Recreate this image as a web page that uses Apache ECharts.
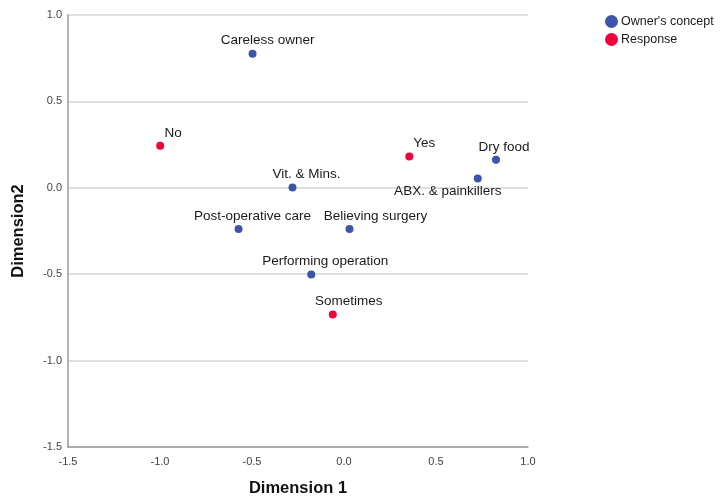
<!DOCTYPE html>
<html>
<head>
<meta charset="utf-8">
<script src="https://cdn.jsdelivr.net/npm/echarts@6/dist/echarts.min.js"></script>
<style>html,body{margin:0;padding:0;background:#fff}#c{width:726px;height:502px}</style>
</head>
<body>
<div id="c"></div>
<script>
// Owner's concept points
const ownerNames = ["Careless owner", "Vit. & Mins.", "Post-operative care", "Believing surgery", "Performing operation", "Dry food", "ABX. & painkillers"];
const ownerX = [-0.497, -0.280, -0.573, 0.030, -0.178, 0.826, 0.727];
const ownerY = [0.776, 0.002, -0.238, -0.238, -0.502, 0.162, 0.054];
// Response points
const respNames = ["No", "Yes", "Sometimes"];
const respX = [-0.999, 0.355, -0.061];
const respY = [0.243, 0.181, -0.733];
// Axis ticks
const xTicks = [-1.5, -1.0, -0.5, 0.0, 0.5, 1.0];
const yTicks = [-1.5, -1.0, -0.5, 0.0, 0.5, 1.0];

// label placement (style only)
const ownerLabelStyle = [
  {position: 'top', offset: [15, 0]},
  {position: 'top', offset: [14, 0]},
  {position: 'top', offset: [14, 0]},
  {position: 'top', offset: [26, 0]},
  {position: 'top', offset: [14, 0]},
  {position: 'top', offset: [8, 0]},
  {position: 'bottom', offset: [-30, 0]}
];
const respLabelStyle = [
  {position: 'top', offset: [13, 0]},
  {position: 'top', offset: [15, 0]},
  {position: 'top', offset: [16, 0]}
];

const BLUE = '#3B56A8', RED = '#F0033B';
const labelFont = {color: '#1a1a1a', fontSize: 13.5, fontFamily: 'Liberation Sans, Arial, sans-serif'};

function build(names, xs, ys, styles) {
  return names.map((n, i) => ({
    name: n,
    value: [xs[i], ys[i]],
    label: Object.assign({show: true, formatter: n, distance: 2}, labelFont, styles[i])
  }));
}

const chart = echarts.init(document.getElementById('c'), null, {renderer: 'canvas'});
chart.setOption({
  animation: false,
  backgroundColor: '#fff',
  textStyle: {fontFamily: 'Liberation Sans, Arial, sans-serif'},
  grid: {left: 68, right: 198, top: 15, bottom: 54, containLabel: false},
  legend: {
    orient: 'vertical', left: 600, top: 10, itemWidth: 13, itemHeight: 13, itemGap: 5,
    icon: 'circle',
    itemStyle: {opacity: 1},
    textStyle: {fontSize: 12.5, color: '#1a1a1a', padding: [0, 0, 0, -2]},
    data: ["Owner's concept", "Response"]
  },
  xAxis: {
    type: 'value', min: xTicks[0], max: xTicks[xTicks.length - 1], interval: 0.5,
    name: 'Dimension 1', nameLocation: 'middle', nameGap: 33,
    nameTextStyle: {fontSize: 16.5, fontWeight: 'bold', color: '#111'},
    axisLine: {show: true, onZero: false, lineStyle: {color: '#999', width: 1.5}},
    axisTick: {show: false},
    splitLine: {show: false},
    axisLabel: {color: '#444', fontSize: 11, margin: 9, formatter: v => v.toFixed(1)}
  },
  yAxis: {
    type: 'value', min: yTicks[0], max: yTicks[yTicks.length - 1], interval: 0.5,
    name: 'Dimension2', nameLocation: 'middle', nameGap: 41, nameRotate: 90,
    nameTextStyle: {fontSize: 16.5, fontWeight: 'bold', color: '#111'},
    axisLine: {show: true, onZero: false, lineStyle: {color: '#999', width: 1.5}},
    axisTick: {show: false},
    splitLine: {show: true, lineStyle: {color: '#d4d4d4', width: 1.5}},
    axisLabel: {color: '#444', fontSize: 11, margin: 6, formatter: v => v.toFixed(1)}
  },
  series: [
    {
      name: "Owner's concept", type: 'scatter', symbolSize: 8,
      itemStyle: {color: BLUE, opacity: 1},
      data: build(ownerNames, ownerX, ownerY, ownerLabelStyle)
    },
    {
      name: 'Response', type: 'scatter', symbolSize: 8,
      itemStyle: {color: RED, opacity: 1},
      data: build(respNames, respX, respY, respLabelStyle)
    }
  ]
});
</script>
</body>
</html>
